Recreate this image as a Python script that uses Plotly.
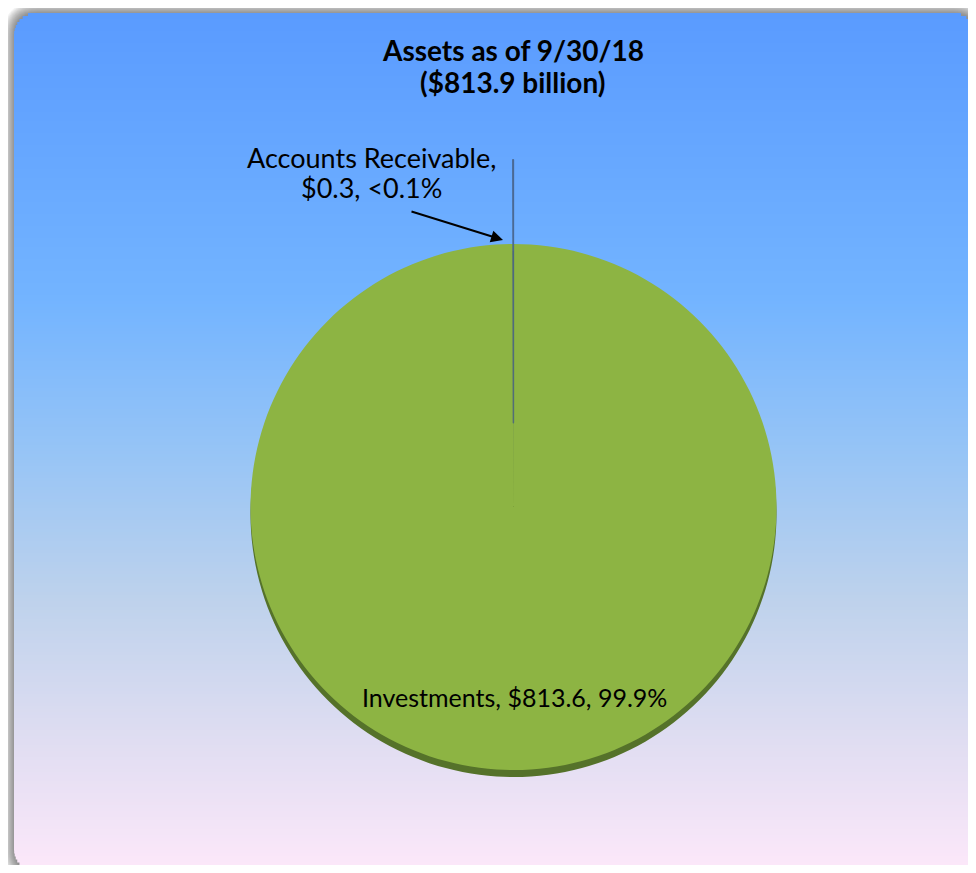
import plotly.graph_objects as go
import math

# ---- data ----
categories = ["Investments", "Accounts Receivable"]
values = [813.6, 0.3]
pct_labels = ["99.9%", "<0.1%"]
total = 813.9
title_date = "9/30/18"

# page body has an 8px margin on every side; size the figure to fit the window exactly
OFF = 8
W, H = 976 - 2 * OFF, 873 - 2 * OFF

def px(x):
    return (x - OFF) / W

def py(y):
    return 1 - (y - OFF) / H

def rrect(x0, y0, x1, y1, r):
    pts = [
        f"M {px(x0 + r)},{py(y0)}",
        f"L {px(x1 - r)},{py(y0)}",
        f"Q {px(x1)},{py(y0)} {px(x1)},{py(y0 + r)}",
        f"L {px(x1)},{py(y1 - r)}",
        f"Q {px(x1)},{py(y1)} {px(x1 - r)},{py(y1)}",
        f"L {px(x0 + r)},{py(y1)}",
        f"Q {px(x0)},{py(y1)} {px(x0)},{py(y1 - r)}",
        f"L {px(x0)},{py(y0 + r)}",
        f"Q {px(x0)},{py(y0)} {px(x0 + r)},{py(y0)}",
        "Z",
    ]
    return " ".join(pts)

shapes = []
BX0, BY0, BX1, BY1, BR = 14, 13, 975, 871, 22
for k in range(12, 0, -1):
    shapes.append(dict(type="path", xref="paper", yref="paper",
                       path=rrect(BX0 - k + 1, BY0 - k + 1, BX1 + k, BY1 + k, BR + k),
                       fillcolor="rgba(0,0,0,0.045)", line=dict(width=0), layer="below"))

stops = [(13, (90, 155, 255)), (300, (115, 180, 255)), (450, (150, 196, 246)),
         (600, (190, 210, 236)), (750, (226, 222, 242)), (873, (253, 232, 250))]

def col(y):
    for (ya, ca), (yb, cb) in zip(stops[:-1], stops[1:]):
        if ya <= y <= yb:
            t = (y - ya) / (yb - ya)
            return "rgb(%d,%d,%d)" % tuple(round(a + (b - a) * t) for a, b in zip(ca, cb))
    return "rgb(%d,%d,%d)" % stops[-1][1]

step = 3
y = BY0
while y < BY1:
    y2 = min(y + step, BY1)
    ym = (y + y2) / 2
    inset = 0
    if ym < BY0 + BR:
        d = BY0 + BR - ym
        inset = BR - math.sqrt(max(BR * BR - d * d, 0))
    elif ym > BY1 - BR:
        d = ym - (BY1 - BR)
        inset = BR - math.sqrt(max(BR * BR - d * d, 0))
    shapes.append(dict(type="rect", xref="paper", yref="paper",
                       x0=px(BX0 + inset), x1=px(BX1 - inset), y0=py(y2 + 0.6), y1=py(y),
                       fillcolor=col(ym), line=dict(width=0), layer="below"))
    y = y2

# ---- pie geometry ----
CX, CY, R = 513.5, 507, 263
pull = [0, 0.32]
half = R * (1 + max(pull))

def dom(cy):
    y0 = max(py(cy + half), 0.0)
    y1 = min(py(cy - half), 1.0)
    return dict(x=[px(CX - half), px(CX + half)], y=[y0, y1])

fig = go.Figure()
fig.add_trace(go.Pie(values=values, labels=categories, sort=False, direction="clockwise",
                     rotation=0, pull=pull, domain=dom(CY + 7), textinfo="none",
                     hoverinfo="skip", showlegend=False,
                     marker=dict(colors=["#55722A", "rgba(0,0,0,0)"], line=dict(width=0))))
fig.add_trace(go.Pie(values=values, labels=categories, sort=False, direction="clockwise",
                     rotation=0, pull=pull, domain=dom(CY), textinfo="none",
                     showlegend=False,
                     marker=dict(colors=["#8DB443", "#4F6E9A"],
                                 line=dict(color=["rgba(0,0,0,0)", "rgba(70,95,130,0.8)"],
                                           width=[0, 1.5]))))

font = "Lato, Open Sans, sans-serif"

def ann(text, x, y, size, bold=False):
    return dict(text=f"<b>{text}</b>" if bold else text, x=px(x), y=py(y),
                xref="paper", yref="paper", showarrow=False,
                xanchor="center", yanchor="middle",
                font=dict(family=font, size=size, color="black"))

annotations = [
    ann(f"Assets as of {title_date}", 513, 50, 28, True),
    ann(f"(${total} billion)", 513, 82, 28, True),
    ann(f"{categories[1]},", 371, 157, 27),
    ann(f"${values[1]}, {pct_labels[1]}", 371, 188, 27),
    dict(text="", x=px(503), y=py(240), xref="paper", yref="paper", showarrow=True,
         ax=-93, ay=-29, axref="pixel", ayref="pixel", arrowhead=2, arrowsize=1.2,
         arrowwidth=2, arrowcolor="black", standoff=0, startstandoff=0),
    ann(f"{categories[0]}, ${values[0]}, {pct_labels[0]}", 514, 697, 25),
]

fig.update_layout(width=W, height=H, margin=dict(l=0, r=0, t=0, b=0),
                  paper_bgcolor="white", plot_bgcolor="white",
                  shapes=shapes, annotations=annotations, showlegend=False)

fig.write_html("out.html")
